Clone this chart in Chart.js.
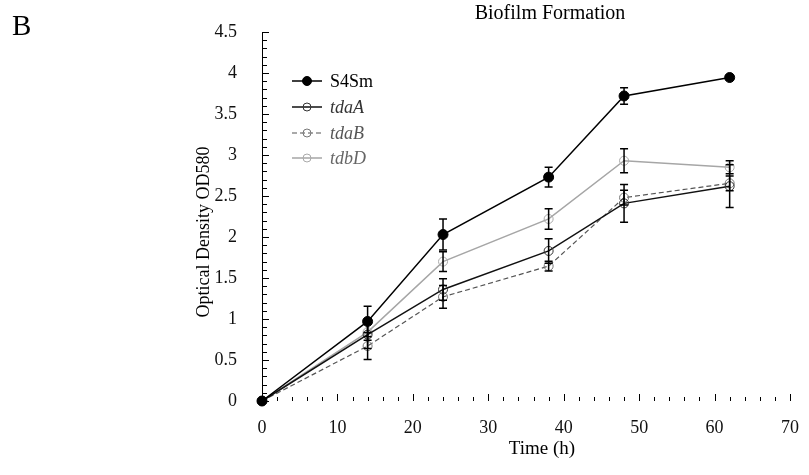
<!DOCTYPE html>
<html>
<head>
<meta charset="utf-8">
<script src="https://cdn.jsdelivr.net/npm/chart.js@4.4.0/dist/chart.umd.min.js"></script>
<style>
  body { margin: 0; background: #fff; }
</style>
</head>
<body>
<canvas id="biofilmChart" width="809" height="475"></canvas>
<script>
// sampling times (h)
const hours = [0, 14, 24, 38, 48, 62];

// mean OD580 per strain
const s4sm = [0, 0.97, 2.03, 2.73, 3.72, 3.945];
const tdaA = [0, 0.81, 1.36, 1.83, 2.41, 2.62];
const tdaB = [0, 0.67, 1.27, 1.645, 2.48, 2.655];
const tdbD = [0, 0.84, 1.70, 2.22, 2.93, 2.85];

// error bar half-heights
const s4smErr = [0, 0.185, 0.19, 0.12, 0.1, 0.02];
const tdaAErr = [0, 0.17, 0.13, 0.15, 0.23, 0.26];
const tdaBErr = [0, 0.165, 0.14, 0.06, 0.09, 0.09];
const tdbDErr = [0, 0.1, 0.12, 0.125, 0.145, 0.08];

const xTickValues = [0, 10, 20, 30, 40, 50, 60, 70];
const yTickValues = [0, 0.5, 1, 1.5, 2, 2.5, 3, 3.5, 4, 4.5];

const serif = "'Liberation Serif', 'Times New Roman', serif";

function points(values) {
    return hours.map((t, i) => ({x: t, y: values[i]}));
}

// vertical error bars with caps, drawn on top of the lines
const errorBars = {
    id: "errorBars",
    afterDatasetsDraw(chart) {
        const ctx = chart.ctx;
        const xs = chart.scales.x;
        const ys = chart.scales.y;
        ctx.save();
        ctx.strokeStyle = "#000";
        ctx.lineWidth = 1.5;
        chart.data.datasets.forEach(ds => {
            ds.data.forEach((p, i) => {
                const e = ds.errors[i];
                if (!e) return;
                const x = xs.getPixelForValue(p.x);
                const top = ys.getPixelForValue(p.y + e);
                const bot = ys.getPixelForValue(p.y - e);
                ctx.beginPath();
                ctx.moveTo(x, top);
                ctx.lineTo(x, bot);
                ctx.moveTo(x - 4, top);
                ctx.lineTo(x + 4, top);
                ctx.moveTo(x - 4, bot);
                ctx.lineTo(x + 4, bot);
                ctx.stroke();
            });
        });
        ctx.restore();
    }
};

// small tick marks pointing into the plot area
const innerTicks = {
    id: "innerTicks",
    afterDraw(chart) {
        const ctx = chart.ctx;
        const xs = chart.scales.x;
        const ys = chart.scales.y;
        const area = chart.chartArea;
        ctx.save();
        ctx.strokeStyle = "#000";
        ctx.lineWidth = 1;
        ctx.beginPath();
        for (let i = 0; i <= 45; i++) {
            const y = Math.round(ys.getPixelForValue(i / 10)) + 0.5;
            const len = i % 5 === 0 ? 7 : 5;
            ctx.moveTo(area.left, y);
            ctx.lineTo(area.left + len, y);
        }
        for (let i = 0; i <= 35; i++) {
            const x = Math.round(xs.getPixelForValue(i * 2)) + 0.5;
            const len = (i * 2) % 10 === 0 ? 7 : 4;
            ctx.moveTo(x, area.bottom);
            ctx.lineTo(x, area.bottom - len);
        }
        ctx.stroke();
        ctx.restore();
    }
};

// panel letter, title, axis titles and the legend box
const annotations = {
    id: "annotations",
    afterDraw(chart) {
        const ctx = chart.ctx;
        ctx.save();
        ctx.fillStyle = "#000";
        ctx.textBaseline = "alphabetic";

        ctx.font = "29px " + serif;
        ctx.textAlign = "left";
        ctx.fillText("B", 12, 35);

        ctx.font = "20px " + serif;
        ctx.textAlign = "center";
        ctx.fillText("Biofilm Formation", 550, 19);

        ctx.font = "19px " + serif;
        ctx.fillText("Time (h)", 542, 454);

        ctx.save();
        ctx.translate(204, 232);
        ctx.rotate(-Math.PI / 2);
        ctx.font = "18px " + serif;
        ctx.textBaseline = "middle";
        ctx.fillText("Optical Density OD580", 0, 0);
        ctx.restore();

        const rows = [81, 107, 133, 158];
        chart.data.datasets.forEach((ds, i) => {
            const y = rows[i];
            ctx.save();
            ctx.strokeStyle = ds.borderColor;
            ctx.lineWidth = ds.borderWidth;
            ctx.setLineDash(ds.borderDash || []);
            ctx.beginPath();
            ctx.moveTo(292, y);
            ctx.lineTo(322, y);
            ctx.stroke();
            ctx.setLineDash([]);
            ctx.beginPath();
            ctx.arc(307, y, ds.pointRadius - 0.5, 0, Math.PI * 2);
            if (ds.pointBackgroundColor !== "transparent") {
                ctx.fillStyle = ds.pointBackgroundColor;
                ctx.fill();
            }
            ctx.strokeStyle = ds.pointBorderColor;
            ctx.lineWidth = ds.pointBorderWidth;
            ctx.stroke();
            ctx.fillStyle = ds.labelColor;
            ctx.font = (ds.italic ? "italic " : "") + "18px " + serif;
            ctx.textAlign = "left";
            ctx.textBaseline = "middle";
            ctx.fillText(ds.label, 330, y + 1);
            ctx.restore();
        });
        ctx.restore();
    }
};

const ctx = document.getElementById("biofilmChart").getContext("2d");
const myChart = new Chart(ctx, {
    type: "line",
    data: {
        datasets: [
            {
                label: "S4Sm",
                data: points(s4sm),
                errors: s4smErr,
                borderColor: "#000",
                borderWidth: 1.5,
                pointRadius: 5,
                pointBackgroundColor: "#000",
                pointBorderColor: "#000",
                pointBorderWidth: 1,
                labelColor: "#000",
                italic: false
            },
            {
                label: "tdaA",
                data: points(tdaA),
                errors: tdaAErr,
                borderColor: "#111",
                borderWidth: 1.5,
                pointRadius: 4.5,
                pointBackgroundColor: "transparent",
                pointBorderColor: "#333",
                pointBorderWidth: 1,
                labelColor: "#333",
                italic: true
            },
            {
                label: "tdaB",
                data: points(tdaB),
                errors: tdaBErr,
                borderColor: "#555",
                borderWidth: 1.2,
                borderDash: [5, 3],
                pointRadius: 4.5,
                pointBackgroundColor: "transparent",
                pointBorderColor: "#777",
                pointBorderWidth: 1,
                labelColor: "#555",
                italic: true
            },
            {
                label: "tdbD",
                data: points(tdbD),
                errors: tdbDErr,
                borderColor: "#a6a6a6",
                borderWidth: 1.5,
                pointRadius: 4.5,
                pointBackgroundColor: "transparent",
                pointBorderColor: "#aaa",
                pointBorderWidth: 1,
                labelColor: "#666",
                italic: true
            }
        ]
    },
    options: {
        responsive: false,
        devicePixelRatio: 1,
        animation: false,
        layout: {
            padding: {left: 0, top: 32, right: 19, bottom: 0}
        },
        elements: {
            line: {tension: 0}
        },
        datasets: {
            line: {clip: false}
        },
        plugins: {
            legend: {display: false},
            tooltip: {enabled: false},
            title: {display: false}
        },
        scales: {
            x: {
                type: "linear",
                min: 0,
                max: 70,
                afterBuildTicks: s => { s.ticks = xTickValues.map(v => ({value: v})); },
                afterFit: s => { s.height = 74; },
                grid: {display: false},
                border: {display: false},
                ticks: {
                    color: "#111",
                    padding: 8,
                    maxRotation: 0,
                    font: {family: serif, size: 18},
                    callback: v => String(v)
                }
            },
            y: {
                min: 0,
                max: 4.5,
                afterBuildTicks: s => { s.ticks = yTickValues.map(v => ({value: v})); },
                afterFit: s => { s.width = 262; },
                grid: {display: false},
                border: {display: true, color: "#000", width: 1},
                ticks: {
                    color: "#111",
                    padding: 17,
                    font: {family: serif, size: 18},
                    callback: v => String(v)
                }
            }
        }
    },
    plugins: [errorBars, innerTicks, annotations]
});
</script>
</body>
</html>
